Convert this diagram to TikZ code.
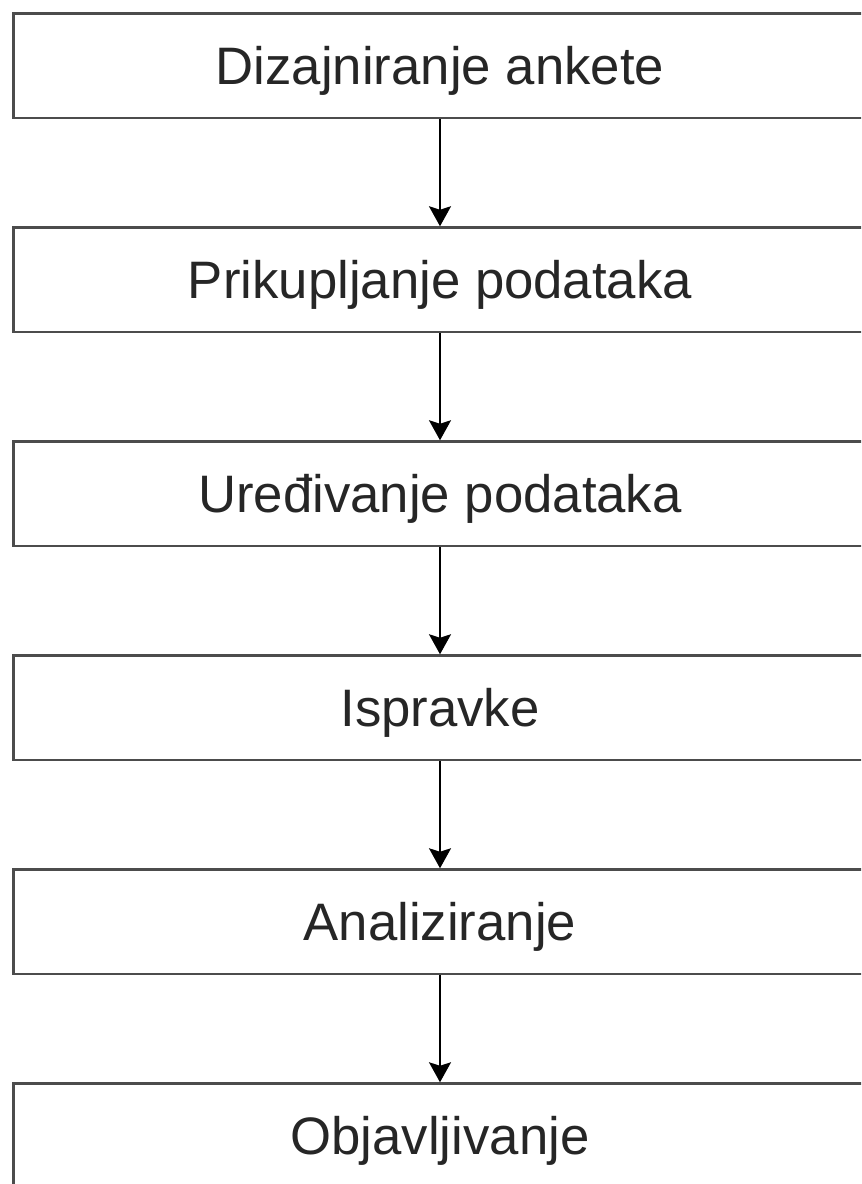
\documentclass[tikz,border=0pt]{standalone}
\usepackage{fontspec}
\setmainfont{Liberation Sans}
\usetikzlibrary{positioning,arrows.meta}

\begin{document}
\begin{tikzpicture}[->,>={Stealth[length=0.4cm,width=0.44cm,inset=0.07cm]},node distance=4.28cm,
	korak/.style={draw=black!70,line width=1.4pt,minimum width=17.06cm,minimum height=2.09cm,inner sep=0pt,text height=0.76cm,text depth=0cm,text=black!85,font=\fontsize{30}{36}\selectfont},
	veza/.style={line width=1.1pt,black}]

\useasboundingbox (0,0) rectangle (17.22,-23.68);
\clip (0,0) rectangle (17.22,-23.68);

\node[korak](k1) at (8.8,-1.315){Dizajniranje ankete};
\node[korak](k2)[below of=k1]{Prikupljanje podataka};
\node[korak](k3)[below of=k2]{Uređivanje podataka};
\node[korak](k4)[below of=k3]{Ispravke};
\node[korak](k5)[below of=k4]{Analiziranje};
\node[korak](k6)[below of=k5]{Objavljivanje};

\path[veza](k1)edge(k2)
	(k2)edge(k3)
	(k3)edge(k4)
	(k4)edge(k5)
	(k5)edge(k6);

\end{tikzpicture}
\end{document}
